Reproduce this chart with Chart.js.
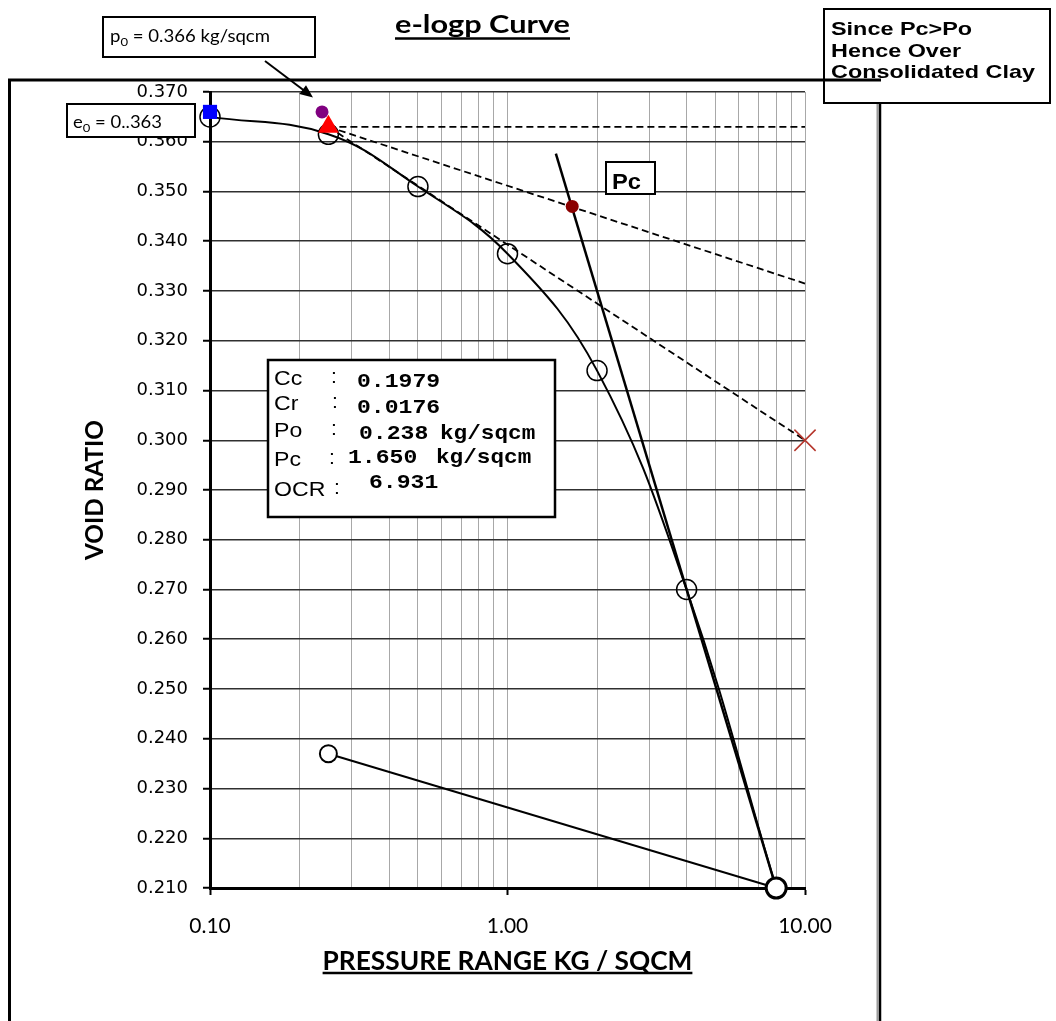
<!DOCTYPE html>
<html>
<head>
<meta charset="utf-8">
<script src="https://cdn.jsdelivr.net/npm/chart.js@4.4.1/dist/chart.umd.min.js"></script>
<style>
html,body{margin:0;padding:0;background:#fff;overflow:hidden}
canvas{display:block}
</style>
</head>
<body>
<canvas id="c" width="1056" height="1021"></canvas>
<script>
// ---------------- data ----------------
const pressureLoad   = [0.1, 0.25, 0.5, 1.0, 2.0, 4.0, 8.0];
const voidLoad       = [0.365, 0.3615, 0.351, 0.3375, 0.314, 0.270, 0.210];
const pressureUnload = [8.0, 0.25];
const voidUnload     = [0.210, 0.237];
const ccLineP        = [1.454, 8.0];
const ccLineE        = [0.3576, 0.210];
const horizLineP     = [0.25, 10];
const horizLineE     = [0.363, 0.363];
const tangentLineP   = [0.25, 10];
const tangentLineE   = [0.363, 0.300];
const bisectLineP    = [0.25, 10];
const bisectLineE    = [0.363, 0.3315];
const e0PointP = [0.1];   const e0PointE = [0.366];
const p0PointP = [0.238]; const p0PointE = [0.366];
const maxCurvP = [0.25];  const maxCurvE = [0.363];
const pcPointP = [1.65];  const pcPointE = [0.347];
const tanEndP  = [10];    const tanEndE  = [0.300];

const xTickValues  = [0.1,0.2,0.3,0.4,0.5,0.6,0.7,0.8,0.9,1,2,3,4,5,6,7,8,9,10];
const xLabelValues = [0.1, 1, 10];
const yTickValues  = [0.21,0.22,0.23,0.24,0.25,0.26,0.27,0.28,0.29,0.30,0.31,0.32,0.33,0.34,0.35,0.36,0.37];

const chartTitle = 'e-logp Curve';
const xAxisTitle = 'PRESSURE RANGE KG / SQCM';
const yAxisTitle = 'VOID RATIO';
const p0Text = ['p', '0', ' = 0.366 kg/sqcm'];
const e0Text = ['e', '0', ' = 0..363'];
const noteLines = ['Since Pc>Po', 'Hence Over', 'Consolidated Clay'];
const pcLabel = 'Pc';
const infoLabels = ['Cc', 'Cr', 'Po', 'Pc', 'OCR'];
const infoValues = ['0.1979', '0.0176', '0.238', '1.650', '6.931'];
const infoUnits  = ['', '', 'kg/sqcm', 'kg/sqcm', ''];

// ---------------- helpers ----------------
const pts = (xs, ys) => xs.map((x, i) => ({x: x, y: ys[i]}));
const isMajor = v => xLabelValues.some(m => Math.abs(m - v) < 1e-9);
const mctx = document.createElement('canvas').getContext('2d');
function fitSize(text, weight, family, target) {
  mctx.font = weight + ' 100px ' + family;
  return 100 * target / mctx.measureText(text).width;
}
const SANS = 'Lato, "Open Sans", sans-serif';
const ARIAL = '"Liberation Sans", Arial, sans-serif';
const xTitleSize = fitSize(xAxisTitle, 'bold', SANS, 370);
const yTitleSize = fitSize(yAxisTitle, 'bold', SANS, 140);
const xTickSize = 21;

function txt(ctx, s, x, y, font, opt) {
  opt = opt || {};
  ctx.save();
  ctx.font = font;
  ctx.textBaseline = 'alphabetic';
  ctx.textAlign = 'left';
  ctx.fillStyle = opt.color || '#000';
  const w = ctx.measureText(s).width;
  const sx = opt.width ? opt.width / w : (opt.sx || 1);
  ctx.translate(x, y);
  ctx.scale(sx, 1);
  ctx.fillText(s, 0, 0);
  ctx.restore();
  return w * sx;
}
function subText(ctx, parts, x, y, size, target) {
  const big = size + 'px ' + SANS, small = Math.round(size * 0.68) + 'px ' + SANS;
  ctx.save();
  ctx.font = big; const w0 = ctx.measureText(parts[0]).width;
  ctx.font = small; const w1 = ctx.measureText(parts[1]).width;
  ctx.font = big; const w2 = ctx.measureText(parts[2]).width;
  const sx = target / (w0 + w1 + w2);
  ctx.translate(x, y); ctx.scale(sx, 1);
  ctx.fillStyle = '#000'; ctx.textBaseline = 'alphabetic';
  ctx.font = big; ctx.fillText(parts[0], 0, 0);
  ctx.font = small; ctx.fillText(parts[1], w0, 4);
  ctx.font = big; ctx.fillText(parts[2], w0 + w1, 0);
  ctx.restore();
}
function box(ctx, x, y, w, h, lw) {
  ctx.save();
  ctx.fillStyle = '#fff';
  ctx.fillRect(x, y, w, h);
  ctx.strokeStyle = '#000';
  ctx.lineWidth = lw || 2;
  ctx.strokeRect(x, y, w, h);
  ctx.restore();
}
function line(ctx, x1, y1, x2, y2, w, color) {
  ctx.save();
  ctx.strokeStyle = color || '#000';
  ctx.lineWidth = w;
  ctx.beginPath(); ctx.moveTo(x1, y1); ctx.lineTo(x2, y2); ctx.stroke();
  ctx.restore();
}

// ---------------- decoration plugin ----------------
const decor = {
  id: 'decor',
  beforeDraw(chart) {
    const c = chart.ctx;
    c.save(); c.fillStyle = '#fff'; c.fillRect(0, 0, chart.width, chart.height); c.restore();
  },
  afterDraw(chart) {
    const c = chart.ctx;
    // outer frame
    line(c, 9.5, 79, 9.5, 1021, 3);
    line(c, 8, 80, 881, 80, 3);
    line(c, 877.5, 80, 877.5, 1021, 2, '#9a9a9a');
    line(c, 880, 80, 880, 1021, 2.5, '#000');

    // main title (underlined)
    const tw = txt(c, chartTitle, 395, 33, 'bold 25px ' + SANS, {width: 175});
    line(c, 395, 38.5, 395 + tw, 38.5, 2.5);

    // x-axis title underline
    const xs = chart.scales.x;
    c.save();
    c.font = 'bold ' + xTitleSize.toFixed(2) + 'px ' + SANS;
    const xw = c.measureText(xAxisTitle).width;
    c.restore();
    const xc = (xs.left + xs.right) / 2;
    const xTitleY = xs.bottom - xTitleSize * 0.6 - xTitlePad;
    line(c, xc - xw / 2, xTitleY + xTitleSize * 0.42, xc + xw / 2, xTitleY + xTitleSize * 0.42, 2.5);

    // p0 box + arrow
    box(c, 103, 17, 212, 40, 2);
    subText(c, p0Text, 110, 42, 17, 160);
    line(c, 265, 61, 306, 92, 2);
    c.save();
    c.fillStyle = '#000';
    const ang = Math.atan2(97 - 61, 312 - 265);
    c.translate(313, 97.5); c.rotate(ang);
    c.beginPath(); c.moveTo(0, 0); c.lineTo(-13, -5.5); c.lineTo(-13, 5.5); c.closePath(); c.fill();
    c.restore();

    // e0 box
    box(c, 67, 104, 128, 33, 2);
    subText(c, e0Text, 73, 128, 17, 89);

    // note box (top right)
    box(c, 824, 9, 226, 94, 2);
    line(c, 824, 80, 881, 80, 3);
    const NF = 'bold 19px ' + ARIAL;
    c.save(); c.font = NF; const nsx = 204 / c.measureText(noteLines[2]).width; c.restore();
    [35, 57, 78].forEach((by, i) => txt(c, noteLines[i], 831, by, NF, {sx: nsx}));

    // Pc label box
    box(c, 606, 162, 49, 32, 2);
    txt(c, pcLabel, 612, 189, 'bold 22px ' + ARIAL, {width: 29});

    // info box
    box(c, 268, 360, 287, 157, 2.5);
    const rows = [
      {ly: 385, cx: 331, vx: 357, vy: 387, ux: 0},
      {ly: 410, cx: 332, vx: 357, vy: 413, ux: 0},
      {ly: 437, cx: 331, vx: 359, vy: 439, ux: 440},
      {ly: 466, cx: 329, vx: 348, vy: 463, ux: 436},
      {ly: 496, cx: 334, vx: 369, vy: 488, ux: 0}
    ];
    const LF = '21px ' + ARIAL;
    const VF = 'bold 21px "Liberation Mono", "Courier New", monospace';
    rows.forEach((r, i) => {
      txt(c, infoLabels[i], 274, r.ly, LF, {sx: 1.1});
      txt(c, ':', r.cx, r.ly - 2, LF);
      txt(c, infoValues[i], r.vx, r.vy, VF, {sx: 1.1});
      if (infoUnits[i]) txt(c, infoUnits[i], r.ux, r.vy, VF, {sx: 1.08});
    });
  }
};

// ---------------- chart ----------------
const xTitlePad = 1021 - 962 - xTitleSize * 0.6;
const yTitlePad = 95 - yTitleSize * 0.6;

const lineDs = (label, xs, ys, extra) => Object.assign({
  label: label, data: pts(xs, ys), showLine: true, pointRadius: 0, pointHoverRadius: 0,
  borderColor: '#000', backgroundColor: '#000', borderWidth: 2, tension: 0, clip: false
}, extra || {});
const markDs = (label, xs, ys, extra) => Object.assign({
  label: label, data: pts(xs, ys), showLine: false, clip: false, order: 1
}, extra || {});

new Chart(document.getElementById('c'), {
  type: 'scatter',
  data: {
    datasets: [
      markDs('e0', e0PointP, e0PointE, {pointStyle: 'rect', pointRadius: 10, backgroundColor: '#0000FF', borderColor: '#0000FF', borderWidth: 0}),
      markDs('p0', p0PointP, p0PointE, {pointStyle: 'circle', pointRadius: 6.5, backgroundColor: '#800080', borderColor: '#800080', borderWidth: 0}),
      markDs('max curvature', maxCurvP, maxCurvE, {pointStyle: 'triangle', pointRadius: 12, backgroundColor: '#FF0000', borderColor: '#FF0000', borderWidth: 0}),
      markDs('Pc', pcPointP, pcPointE, {pointStyle: 'circle', pointRadius: 6.5, backgroundColor: '#8B0000', borderColor: '#8B0000', borderWidth: 0}),
      markDs('tangent end', tanEndP, tanEndE, {pointStyle: 'crossRot', pointRadius: 15, backgroundColor: '#B5352B', borderColor: '#B5352B', borderWidth: 1.5}),
      lineDs('unloading', pressureUnload, voidUnload, {order: 3, pointRadius: [10, 8.5], pointBorderWidth: [3, 2],
        pointBackgroundColor: '#fff', pointBorderColor: '#000', borderWidth: 2}),
      lineDs('loading', pressureLoad, voidLoad, {order: 4, tension: 0.4, pointRadius: 10, pointBorderWidth: 1.5,
        pointBackgroundColor: 'rgba(255,255,255,0)', pointBorderColor: '#000', borderWidth: 2}),
      lineDs('Cc line', ccLineP, ccLineE, {order: 5, borderWidth: 2.5}),
      lineDs('horizontal', horizLineP, horizLineE, {order: 6, borderDash: [7, 4], borderWidth: 1.8}),
      lineDs('tangent', tangentLineP, tangentLineE, {order: 6, borderDash: [7, 4], borderWidth: 1.8}),
      lineDs('bisector', bisectLineP, bisectLineE, {order: 6, borderDash: [7, 4], borderWidth: 1.8})
    ]
  },
  options: {
    responsive: false,
    animation: false,
    devicePixelRatio: 1,
    events: [],
    layout: {padding: {left: 0, top: 92, right: 251, bottom: 0}},
    plugins: {legend: {display: false}, tooltip: {enabled: false}, title: {display: false}},
    scales: {
      x: {
        type: 'logarithmic', position: 'bottom', min: 0.1, max: 10,
        afterBuildTicks: s => { s.ticks = xTickValues.map(v => ({value: v})); },
        afterFit: s => { s.height = 133; },
        ticks: {
          autoSkip: false, maxRotation: 0, minRotation: 0, padding: 926 - 888 - 7 - xTickSize * 0.6, color: '#000',
          font: {family: SANS, size: xTickSize},
          callback: v => isMajor(v) ? Number(v).toFixed(2) : ''
        },
        grid: {
          color: '#a8a8a8', lineWidth: 1, tickLength: 7, tickWidth: 2,
          tickColor: c => (c.tick && isMajor(c.tick.value)) ? '#000' : 'rgba(0,0,0,0)'
        },
        border: {color: '#000', width: 3},
        title: {
          display: true, text: xAxisTitle, color: '#000',
          font: {family: SANS, size: xTitleSize, weight: 'bold'},
          padding: {top: 0, bottom: xTitlePad}
        }
      },
      y: {
        type: 'linear', position: 'left', min: 0.21, max: 0.37,
        afterBuildTicks: s => { s.ticks = yTickValues.map(v => ({value: v})); },
        afterFit: s => { s.width = 210; },
        ticks: {
          autoSkip: false, padding: 15, color: '#000',
          font: {family: '"DejaVu Sans", Verdana, sans-serif', size: 18},
          callback: v => Number(v).toFixed(3)
        },
        grid: {color: '#303030', lineWidth: 1.5, tickLength: 7, tickWidth: 2, tickColor: '#000'},
        border: {color: '#000', width: 3},
        title: {
          display: true, text: yAxisTitle, color: '#000',
          font: {family: SANS, size: yTitleSize, weight: 'bold'},
          padding: {top: yTitlePad, bottom: 0}
        }
      }
    }
  },
  plugins: [decor]
});
</script>
</body>
</html>
